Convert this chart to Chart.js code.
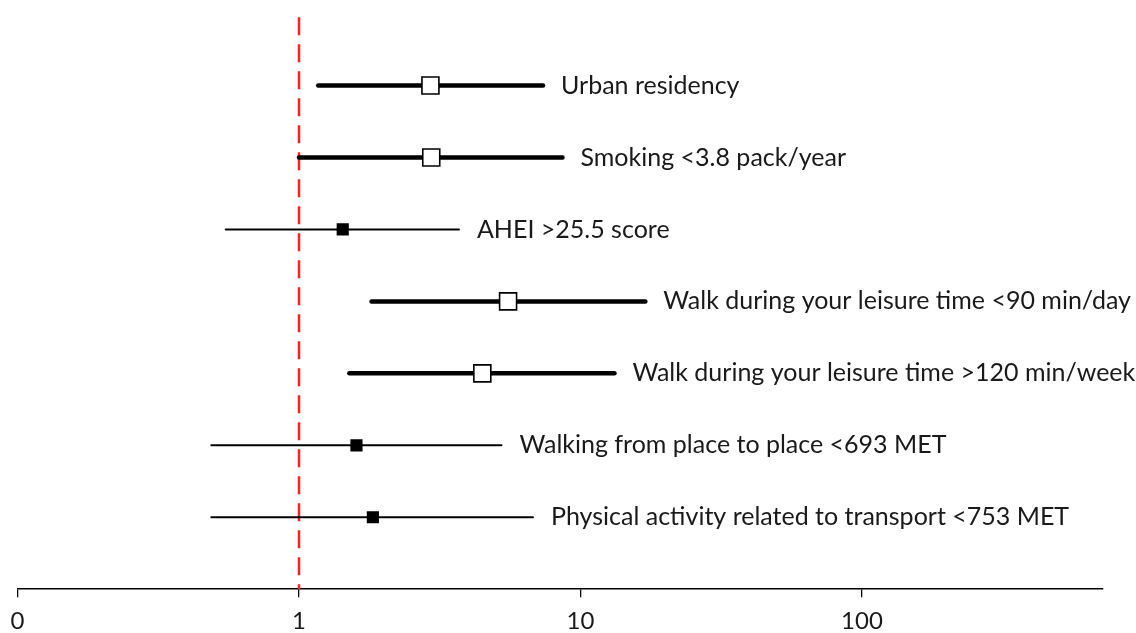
<!DOCTYPE html>
<html>
<head>
<meta charset="utf-8">
<script src="https://cdn.jsdelivr.net/npm/chart.js@4/dist/chart.umd.min.js"></script>
<style>
  html, body { margin: 0; padding: 0; background: #fff; }
  #wrap { width: 1136px; height: 633px; }
</style>
</head>
<body>
<div id="wrap"><canvas id="c" width="1136" height="633"></canvas></div>
<script>
// Odds ratios with 95% confidence intervals, one row per factor (top to bottom)
const factors = [
  'Urban residency',
  'Smoking <3.8 pack/year',
  'AHEI >25.5 score',
  'Walk during your leisure time <90 min/day',
  'Walk during your leisure time >120 min/week',
  'Walking from place to place <693 MET',
  'Physical activity related to transport <753 MET'
];
const oddsRatio = [2.93, 2.95, 1.43, 5.53, 4.48, 1.60, 1.83];
const lowerCI   = [1.17, 1.00, 0.549, 1.81, 1.51, 0.488, 0.488];
const upperCI   = [7.36, 8.63, 3.70, 17.0, 13.2, 5.24, 6.78];
const significant = [true, true, false, true, true, false, false];
const xTicks = [0.1, 1, 10, 100];
const xTickLabels = ['0', '1', '10', '100'];

const FONT = 'Lato, "Open Sans", sans-serif';
const rowY = factors.map((_, i) => factors.length - i);

const datasets = [];

// Null-effect reference line at OR = 1, dashed from the top down
datasets.push({
  type: 'line',
  data: [{ x: 1, y: 7.95 }, { x: 1, y: 0 }],
  borderColor: '#ff2020',
  borderWidth: 2.5,
  borderDash: [18, 9],
  pointRadius: 0,
  order: 5
});

// Confidence interval whiskers
factors.forEach((f, i) => {
  datasets.push({
    type: 'line',
    data: [{ x: lowerCI[i], y: rowY[i] }, { x: upperCI[i], y: rowY[i] }],
    borderColor: '#000',
    borderWidth: significant[i] ? 4.5 : 2,
    borderCapStyle: 'round',
    pointRadius: 0,
    order: 3
  });
});

// Point estimates: open squares for significant rows, filled squares otherwise
datasets.push({
  type: 'scatter',
  data: factors.map((f, i) => ({ x: oddsRatio[i], y: rowY[i] })),
  pointStyle: 'rect',
  pointRadius: factors.map((f, i) => significant[i] ? 12 : 8.6),
  pointBackgroundColor: factors.map((f, i) => significant[i] ? '#fff' : '#000'),
  pointBorderColor: '#000',
  pointBorderWidth: factors.map((f, i) => significant[i] ? 1.6 : 0),
  order: 1
});

// Factor names written to the right of each interval
const factorLabels = {
  id: 'factorLabels',
  afterDatasetsDraw(chart) {
    const { ctx, scales: { x, y } } = chart;
    ctx.save();
    ctx.font = '25px ' + FONT;
    ctx.fillStyle = '#1a1a1a';
    ctx.textBaseline = 'middle';
    ctx.textAlign = 'left';
    factors.forEach((f, i) => {
      ctx.fillText(f, x.getPixelForValue(upperCI[i]) + 18, y.getPixelForValue(rowY[i]));
    });
    ctx.restore();
  }
};

new Chart(document.getElementById('c'), {
  data: { datasets },
  plugins: [factorLabels],
  options: {
    responsive: false,
    animation: false,
    layout: { padding: { left: 17.5, right: 33, top: 10, bottom: -13 } },
    plugins: { legend: { display: false }, tooltip: { enabled: false } },
    scales: {
      x: {
        type: 'logarithmic',
        min: 0.1,
        max: 718,
        afterBuildTicks(axis) { axis.ticks = xTicks.map(v => ({ value: v })); },
        ticks: {
          autoSkip: false,
          maxRotation: 0,
          padding: 10,
          color: '#1a1a1a',
          font: { family: FONT, size: 24 },
          callback: (v) => xTickLabels[xTicks.indexOf(v)] ?? ''
        },
        grid: {
          drawOnChartArea: false,
          drawTicks: true,
          tickLength: 8,
          color: '#000',
          lineWidth: 1.3
        },
        border: { display: true, color: '#000', width: 1.5 }
      },
      y: {
        type: 'linear',
        min: 0,
        max: 8,
        display: false
      }
    }
  }
});
</script>
</body>
</html>
